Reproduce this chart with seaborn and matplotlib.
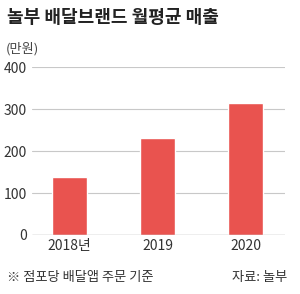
import matplotlib
matplotlib.use('Agg')
import matplotlib.pyplot as plt
import pandas as pd
import seaborn as sns

sns.set_style('white')
plt.rcParams['font.family'] = ['Noto Sans CJK KR', 'DejaVu Sans']

years = ['2018년', '2019', '2020']
sales = [139, 232, 315]
yticks = [0, 100, 200, 300, 400]

df = pd.DataFrame({'year': years, 'sales': sales})

fig = plt.figure(figsize=(3.0, 2.94), dpi=100)
ax = fig.add_axes([0.107, 0.2007, 0.843, 0.5713])

sns.barplot(data=df, x='year', y='sales', color='#E9534F', width=0.4,
            saturation=1, ax=ax, zorder=3)

ax.set_ylim(0, 400)
ax.set_xlim(-0.426, 2.449)
ax.set_yticks(yticks)
ax.grid(axis='y', color='#c8c8c8', linewidth=0.8, zorder=0)
ax.axhline(0, color='#999999', linewidth=0.9, zorder=4)
for s in ax.spines.values():
    s.set_visible(False)
ax.tick_params(axis='both', length=0, labelsize=10, colors='#333333')
ax.tick_params(axis='y', pad=4)
ax.tick_params(axis='x', pad=3)
ax.set_xlabel('')
ax.set_ylabel('')

fig.text(0.023, 0.94, '놀부 배달브랜드 월평균 매출', fontsize=13, fontweight='bold',
         color='#222222', va='center', ha='left')
fig.text(0.02, 0.835, '(만원)', fontsize=9.5, color='#444444', va='center', ha='left')
fig.text(0.023, 0.055, '※ 점포당 배달앱 주문 기준', fontsize=9.5, color='#333333',
         va='center', ha='left')
fig.text(0.957, 0.055, '자료: 놀부', fontsize=9.5, color='#333333',
         va='center', ha='right')

plt.savefig('out.png', dpi=100)
